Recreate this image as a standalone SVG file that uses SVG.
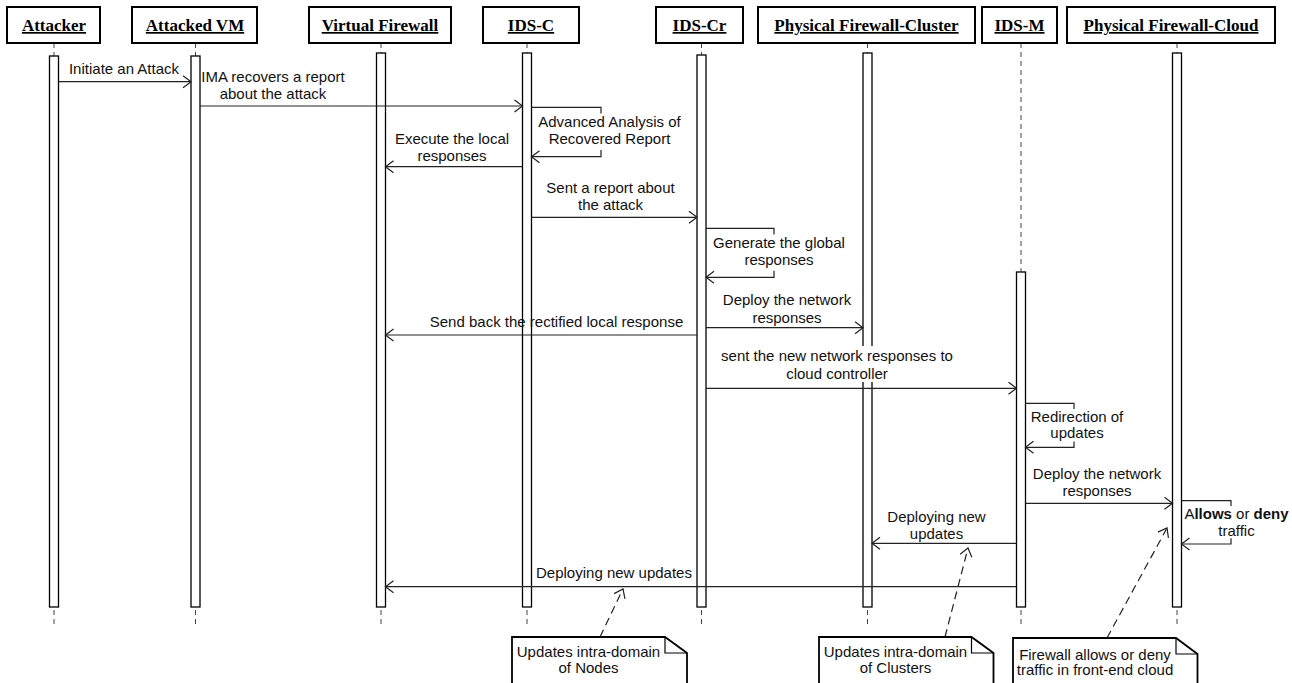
<svg xmlns="http://www.w3.org/2000/svg" width="1292" height="683" viewBox="0 0 1292 683">
  <style>
    .hdr { fill: #fff; stroke: #000; stroke-width: 2; }
    .hdr-t { font-family: "Liberation Serif", "Times New Roman", serif; font-weight: bold; font-size: 17px; text-anchor: middle; text-decoration: underline; fill: #000; }
    .life { stroke: #444; stroke-width: 1; stroke-dasharray: 5 4; fill: none; }
    .act { fill: #fff; stroke: #000; stroke-width: 1.3; }
    .msg { stroke: #222; stroke-width: 1.2; fill: none; }
    .arr { marker-end: url(#open); }
    .lbl { font-family: "Liberation Sans", Arial, sans-serif; font-size: 15px; text-anchor: middle; fill: #111; }
    .note { fill: #fff; stroke: #000; stroke-width: 1.8; }
    .fold { fill: none; stroke: #000; stroke-width: 1.2; }
    .anchor { stroke: #222; stroke-width: 1.2; stroke-dasharray: 8 5; fill: none; marker-end: url(#open); }
  </style>
  <defs>
    <marker id="open" viewBox="-10 -8 12 16" markerWidth="12" markerHeight="16" refX="0" refY="0" orient="auto" markerUnits="userSpaceOnUse">
      <path d="M-8,-6 L0,0 L-8,6" fill="none" stroke="#222" stroke-width="1.2"/>
    </marker>
  </defs>
  <rect width="1292" height="683" fill="#fff"/>

  <!-- lifelines (dashed, drawn under the activation bars) -->
  <g id="lifelines">
    <line class="life" x1="54" y1="43" x2="54" y2="628"/>
    <line class="life" x1="195.5" y1="43" x2="195.5" y2="628"/>
    <line class="life" x1="381" y1="43" x2="381" y2="628"/>
    <line class="life" x1="527" y1="43" x2="527" y2="628"/>
    <line class="life" x1="701.5" y1="43" x2="701.5" y2="628"/>
    <line class="life" x1="867.5" y1="43" x2="867.5" y2="628"/>
    <line class="life" x1="1021" y1="43" x2="1021" y2="628"/>
    <line class="life" x1="1177" y1="43" x2="1177" y2="628"/>
  </g>

  <!-- participants -->
  <g id="attacker">
    <rect class="hdr" x="7" y="7" width="93" height="36"/>
    <text class="hdr-t" x="54" y="31">Attacker</text>
    <rect class="act" x="49.5" y="56" width="9" height="551"/>
  </g>
  <g id="attacked-vm">
    <rect class="hdr" x="132" y="7" width="125" height="36"/>
    <text class="hdr-t" x="195" y="31">Attacked VM</text>
    <rect class="act" x="191" y="56" width="9" height="551"/>
  </g>
  <g id="virtual-firewall">
    <rect class="hdr" x="309" y="7" width="142" height="36"/>
    <text class="hdr-t" x="380" y="31">Virtual Firewall</text>
    <rect class="act" x="376.5" y="53" width="9" height="554"/>
  </g>
  <g id="ids-c">
    <rect class="hdr" x="483" y="7" width="96" height="36"/>
    <text class="hdr-t" x="531" y="31">IDS-C</text>
    <rect class="act" x="522.5" y="53" width="9" height="554"/>
  </g>
  <g id="ids-cr">
    <rect class="hdr" x="656" y="7" width="87" height="36"/>
    <text class="hdr-t" x="699.5" y="31">IDS-Cr</text>
    <rect class="act" x="697" y="55" width="9" height="552"/>
  </g>
  <g id="physical-firewall-cluster">
    <rect class="hdr" x="758" y="7" width="217" height="36"/>
    <text class="hdr-t" x="866.5" y="31">Physical Firewall-Cluster</text>
    <rect class="act" x="863" y="53" width="9" height="554"/>
  </g>
  <g id="ids-m">
    <rect class="hdr" x="982" y="7" width="75" height="36"/>
    <text class="hdr-t" x="1019.5" y="31">IDS-M</text>
    <rect class="act" x="1016.5" y="272" width="9" height="335"/>
  </g>
  <g id="physical-firewall-cloud">
    <rect class="hdr" x="1067" y="7" width="208" height="36"/>
    <text class="hdr-t" x="1171" y="31">Physical Firewall-Cloud</text>
    <rect class="act" x="1172.5" y="53" width="9" height="554"/>
  </g>

  <!-- messages -->
  <g id="connectors">
    <line class="msg arr" x1="58.5" y1="81.7" x2="191" y2="81.7"/>
    <line class="msg arr" x1="200" y1="106" x2="522.5" y2="106"/>
    <!-- self call on IDS-C: bracket ends only, the label sits over the middle -->
    <path class="msg" d="M531.5,107.3 H601 V113.5"/>
    <path class="msg arr" d="M601,150 V156.7 H531.5"/>
    <line class="msg arr" x1="522.5" y1="166.7" x2="385.5" y2="166.7"/>
    <line class="msg arr" x1="531.5" y1="217.3" x2="697" y2="217.3"/>
    <!-- self call on IDS-Cr -->
    <path class="msg" d="M706,228.3 H774 V234.5"/>
    <path class="msg arr" d="M774,270.7 V277.3 H706"/>
    <line class="msg arr" x1="706" y1="327.7" x2="863" y2="327.7"/>
    <line class="msg arr" x1="697" y1="335" x2="385.5" y2="335"/>
    <line class="msg arr" x1="706" y1="388.3" x2="1016.5" y2="388.3"/>
    <!-- self call on IDS-M -->
    <path class="msg" d="M1025.5,403.3 H1074 V409"/>
    <path class="msg arr" d="M1074,441.5 V447.3 H1025.5"/>
    <line class="msg arr" x1="1025.5" y1="503.3" x2="1172.5" y2="503.3"/>
    <!-- self call on the cloud firewall -->
    <path class="msg" d="M1181.5,500.7 H1231 V506"/>
    <path class="msg arr" d="M1231,538.3 V544 H1181.5"/>
    <line class="msg arr" x1="1016.5" y1="543.3" x2="872" y2="543.3"/>
    <line class="msg arr" x1="1016.5" y1="586.7" x2="385.5" y2="586.7"/>
    <!-- note anchors -->
    <line class="anchor" x1="600" y1="637" x2="623" y2="589"/>
    <line class="anchor" x1="945" y1="637" x2="968" y2="548"/>
    <line class="anchor" x1="1107" y1="638" x2="1167" y2="528"/>
  </g>

  <!-- message labels -->
  <g id="labels">
    <text class="lbl" x="124" y="73.5">Initiate an Attack</text>
    <text class="lbl" x="273" y="82">IMA recovers a report</text>
    <text class="lbl" x="273" y="99">about the attack</text>
    <text class="lbl" x="609.5" y="127">Advanced Analysis of</text>
    <text class="lbl" x="609.5" y="143.5">Recovered Report</text>
    <text class="lbl" x="452" y="143.5">Execute the local</text>
    <text class="lbl" x="452" y="160.5">responses</text>
    <text class="lbl" x="610.5" y="192.5">Sent a report about</text>
    <text class="lbl" x="610.5" y="210">the attack</text>
    <text class="lbl" x="779" y="248">Generate the global</text>
    <text class="lbl" x="779" y="264.5">responses</text>
    <text class="lbl" x="787" y="304.5">Deploy the network</text>
    <text class="lbl" x="787" y="322.5">responses</text>
    <text class="lbl" x="556.5" y="327">Send back the rectified local response</text>
    <!-- this label is opaque over the cluster firewall's bar -->
    <rect x="850" y="346" width="30" height="36" fill="#fff"/>
    <text class="lbl" x="837" y="360.5">sent the new network responses to</text>
    <text class="lbl" x="837" y="378.5">cloud controller</text>
    <text class="lbl" x="1077" y="421.5">Redirection of</text>
    <text class="lbl" x="1077" y="438">updates</text>
    <text class="lbl" x="1097" y="478.5">Deploy the network</text>
    <text class="lbl" x="1097" y="495.5">responses</text>
    <text class="lbl" x="1236.5" y="518.5">A<tspan font-weight="bold">llows</tspan> or <tspan font-weight="bold">deny</tspan></text>
    <text class="lbl" x="1236.5" y="535.5">traffic</text>
    <text class="lbl" x="936.5" y="521.5">Deploying new</text>
    <text class="lbl" x="936.5" y="538.5">updates</text>
    <text class="lbl" x="614" y="578">Deploying new updates</text>
  </g>

  <!-- notes -->
  <g id="note-nodes">
    <path class="note" d="M512,637 H665 L687,653 V690 H512 Z"/>
    <path class="fold" d="M665,637 V653 H687"/>
    <text class="lbl" x="588.5" y="657">Updates intra-domain</text>
    <text class="lbl" x="588.5" y="672.5">of Nodes</text>
  </g>
  <g id="note-clusters">
    <path class="note" d="M819,637 H971.5 L993.5,653 V690 H819 Z"/>
    <path class="fold" d="M971.5,637 V653 H993.5"/>
    <text class="lbl" x="895.5" y="657">Updates intra-domain</text>
    <text class="lbl" x="895.5" y="672.5">of Clusters</text>
  </g>
  <g id="note-cloud">
    <path class="note" d="M1013,638 H1176 L1197.5,654 V690 H1013 Z"/>
    <path class="fold" d="M1176,638 V654 H1197.5"/>
    <text class="lbl" x="1095" y="659.5">Firewall allows or deny</text>
    <text class="lbl" x="1095" y="675">traffic in front-end cloud</text>
  </g>
</svg>
